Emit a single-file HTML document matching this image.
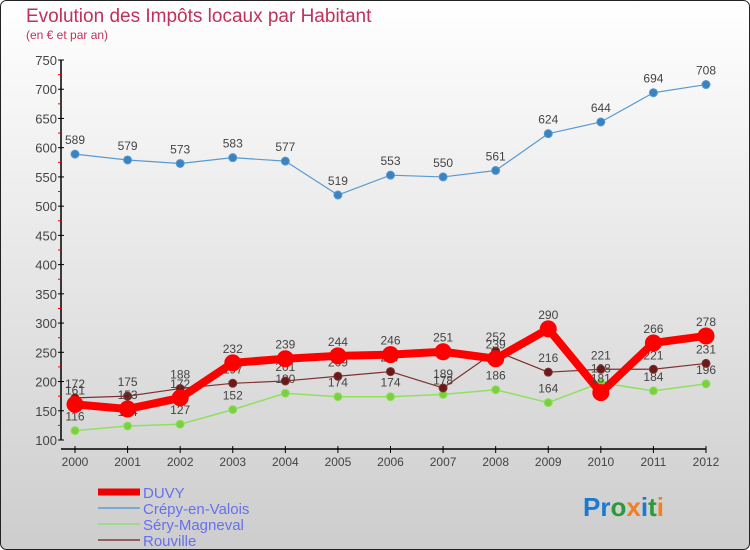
<!DOCTYPE html>
<html><head><meta charset="utf-8"><style>
html,body{margin:0;padding:0;width:750px;height:550px;overflow:hidden}
svg{display:block;font-family:"Liberation Sans",sans-serif}
</style></head><body>
<svg id="chart" width="750" height="550" viewBox="0 0 750 550">
<defs><linearGradient id="bg" x1="0" y1="0" x2="0" y2="1"><stop offset="0" stop-color="#ffffff"/><stop offset="1" stop-color="#cdcdcd"/></linearGradient></defs>
<rect x="0.5" y="0.5" width="749" height="549" rx="6" fill="url(#bg)" stroke="#222"/>
<text x="26" y="22" font-size="19" fill="#c0305a">Evolution des Impôts locaux par Habitant</text>
<text x="26" y="39" font-size="12" fill="#c0305a">(en € et par an)</text>
<g id="axes"></g><g id="series"></g><g id="legend"></g>
<text x="583" y="516" font-size="26" font-weight="bold"><tspan fill="#1a7ad0">Pr</tspan><tspan fill="#2a9a3a">o</tspan><tspan fill="#f08020">x</tspan><tspan fill="#1a7ad0">i</tspan><tspan fill="#2a9a3a">t</tspan><tspan fill="#f08020">i</tspan></text>
</svg>
<script>
const years=[2000,2001,2002,2003,2004,2005,2006,2007,2008,2009,2010,2011,2012];
const yTicks=[100,150,200,250,300,350,400,450,500,550,600,650,700,750];
const duvy=[161,153,172,232,239,244,246,251,239,290,181,266,278];
const crepy=[589,579,573,583,577,519,553,550,561,624,644,694,708];
const sery=[116,124,127,152,180,174,174,178,186,164,198,184,196];
const rouville=[172,175,188,197,201,209,217,189,252,216,221,221,231];
const NS="http://www.w3.org/2000/svg";
const X=i=>75+i*(706-75)/(years.length-1);
const Y=v=>440-(v-100)*380/650;
function mk(tag,attrs,parent){const e=document.createElementNS(NS,tag);for(const k in attrs)e.setAttribute(k,attrs[k]);parent.appendChild(e);return e;}
const axes=document.getElementById('axes');
let e=mk('line',{x1:61,y1:Y(750),x2:61,y2:Y(100),stroke:'#000','stroke-width':1.5},axes);


e=mk('line',{x1:61,y1:449,x2:706,y2:449,stroke:'#000','stroke-width':1.5},axes);


yTicks.forEach((v,i)=>{
  mk('line',{x1:58,x2:64,y1:Y(v),y2:Y(v),stroke:'#000'},axes);
  const t=mk('text',{x:57,y:Y(v)+5,'text-anchor':'end','font-size':13,fill:'#444'},axes);t.textContent=v;
  
  
  if(i<yTicks.length-1){mk('line',{x1:58,x2:61,y1:Y(v+25),y2:Y(v+25),stroke:'#e00'},axes);}
});
years.forEach((yr,i)=>{
  mk('line',{x1:X(i),x2:X(i),y1:446,y2:453,stroke:'#000'},axes);
  const t=mk('text',{x:X(i),y:466,'text-anchor':'middle','font-size':12,fill:'#444'},axes);t.textContent=yr;
  
  
});
const sg=document.getElementById('series');
function draw(vals,name,color,lw,r,dot){
  const g=mk('g',{},sg);
  
  
  mk('polyline',{points:vals.map((v,i)=>X(i)+','+Y(v)).join(' '),fill:'none',stroke:color,'stroke-width':lw,'stroke-linejoin':'round'},g);
  vals.forEach((v,i)=>{
    const c=mk('circle',{cx:X(i),cy:Y(v),r:r,fill:dot,stroke:color,'stroke-width':1},g);
    
    
    const t=mk('text',{x:X(i),y:Y(v)-10,'text-anchor':'middle','font-size':12,fill:'#444'},g);t.textContent=v;
    
    
  });
}
draw(crepy,'crepy','#5a9ad0',1.2,4,'#3a82c0');
draw(sery,'sery','#90e060',1.5,4,'#7cd040');
draw(rouville,'rouville','#803030',1.2,4,'#6a1a1a');
draw(duvy,'duvy','#ff0000',8,8,'#ff0000');
const lg=document.getElementById('legend');
const lgItems=[['DUVY','#ee0000',7],['Crépy-en-Valois','#7aaad0',2],['Séry-Magneval','#a0d890',2],['Rouville','#906060',2]];
lgItems.forEach((it,i)=>{
  const y=492+i*16;
  const g=mk('g',{},lg);
  
  
  mk('line',{x1:98,x2:140,y1:y,y2:y,stroke:it[1],'stroke-width':it[2]},g);
  const t=mk('text',{x:143,y:y+6,'font-size':15,fill:'#6670ee'},g);t.textContent=it[0];
});
</script>
</body></html>
